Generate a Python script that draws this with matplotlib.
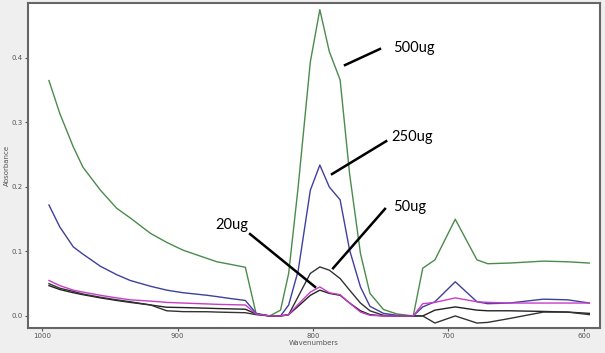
import matplotlib
matplotlib.use("Agg")
import matplotlib.pyplot as plt

# wavenumber grid (cm-1) shared by all spectra
wavenumbers = [995, 987, 977, 970, 957, 945, 935, 920, 908, 896, 878, 871, 861, 850, 842,
               832, 824, 818, 811, 802, 795, 788, 780, 773, 765, 758, 748, 738, 726, 719,
               710, 695, 679, 671, 655, 630, 612, 596]

abs_500ug = [0.365, 0.314, 0.262, 0.231, 0.195, 0.167, 0.152, 0.128, 0.114, 0.102, 0.089, 0.084,
             0.080, 0.0755, 0.003,
             0.000, 0.009, 0.066, 0.200, 0.394, 0.475, 0.410, 0.366, 0.220, 0.097, 0.035, 0.010,
             0.003, 0.000, 0.074, 0.087, 0.150, 0.087, 0.081, 0.082, 0.085, 0.084, 0.082]
abs_250ug = [0.172, 0.138, 0.107, 0.096, 0.077, 0.064, 0.055, 0.046, 0.040, 0.036, 0.032, 0.030,
             0.027, 0.024, 0.004,
             0.000, 0.000, 0.017, 0.070, 0.195, 0.234, 0.200, 0.180, 0.102, 0.045, 0.015, 0.004,
             0.001, 0.000, 0.014, 0.022, 0.053, 0.022, 0.019, 0.020, 0.026, 0.025, 0.020]
abs_magenta = [0.055, 0.047, 0.040, 0.037, 0.032, 0.028, 0.025, 0.023, 0.021, 0.020, 0.0186, 0.018,
               0.0175, 0.017, 0.003,
               0.000, 0.000, 0.002, 0.018, 0.037, 0.045, 0.036, 0.033, 0.020, 0.006, 0.001, 0.000,
               0.000, 0.000, 0.019, 0.021, 0.028, 0.022, 0.021, 0.020, 0.020, 0.020, 0.020]
abs_50ug = [0.050, 0.043, 0.038, 0.034, 0.029, 0.025, 0.022, 0.017, 0.008, 0.0067, 0.0065, 0.006,
            0.0055, 0.005, 0.002,
            0.000, 0.000, 0.002, 0.030, 0.066, 0.076, 0.071, 0.058, 0.040, 0.020, 0.008, 0.001,
            0.000, 0.000, 0.000, -0.011, 0.000, -0.011, -0.010, -0.004, 0.006, 0.006, 0.002]
abs_black2 = [0.047, 0.041, 0.036, 0.033, 0.028, 0.024, 0.021, 0.017, 0.0135, 0.013, 0.012, 0.0115,
              0.011, 0.0104, 0.003,
              0.000, 0.000, 0.002, 0.015, 0.032, 0.040, 0.035, 0.032, 0.020, 0.008, 0.002, 0.000,
              0.000, 0.000, 0.000, 0.009, 0.014, 0.009, 0.008, 0.008, 0.007, 0.006, 0.004]

x_ticks = [1000, 900, 800, 700, 600]
y_ticks = [0.0, 0.1, 0.2, 0.3, 0.4]

fig = plt.figure(figsize=(6.05, 3.53), dpi=100, facecolor="#efefef")
ax = fig.add_axes([0.046, 0.071, 0.946, 0.920])
ax.set_facecolor("white")

ax.plot(wavenumbers, abs_500ug, color="#4b8b4b", lw=1.0)
ax.plot(wavenumbers, abs_250ug, color="#3f3f9e", lw=1.0)
ax.plot(wavenumbers, abs_black2, color="#222222", lw=1.0)
ax.plot(wavenumbers, abs_50ug, color="#333333", lw=1.0)
ax.plot(wavenumbers, abs_magenta, color="#c83cc8", lw=1.0)

ax.set_xlim(1010.6, 588)
ax.set_ylim(-0.0186, 0.485)
ax.set_xticks(x_ticks)
ax.set_yticks(y_ticks)
ax.set_yticklabels(["%.1f" % v for v in y_ticks])
ax.tick_params(labelsize=5, colors="#555555", length=2.5, width=0.8, pad=1.5)
for s in ax.spines.values():
    s.set_color("#666666")
    s.set_linewidth(1.5)

ax.set_xlabel("Wavenumbers", fontsize=5, color="#555555", labelpad=0.5)
ax.set_ylabel("Absorbance", fontsize=5, color="#555555", labelpad=1)

# concentration labels with pointer lines
labels = [("500ug", (741, 0.416), (776.4, 0.389), (750.6, 0.414)),
          ("250ug", (742.4, 0.278), (786, 0.220), (746, 0.271)),
          ("50ug", (741, 0.169), (785.2, 0.074), (746.9, 0.166)),
          ("20ug", (872.3, 0.141), (798.5, 0.045), (846.5, 0.127))]
for txt, tpos, p0, p1 in labels:
    ax.plot([p0[0], p1[0]], [p0[1], p1[1]], color="black", lw=1.8)
    ax.text(tpos[0], tpos[1], txt, fontsize=10.5, family="Lato", ha="left", va="center")

fig.savefig("out.png", dpi=100, facecolor=fig.get_facecolor())
